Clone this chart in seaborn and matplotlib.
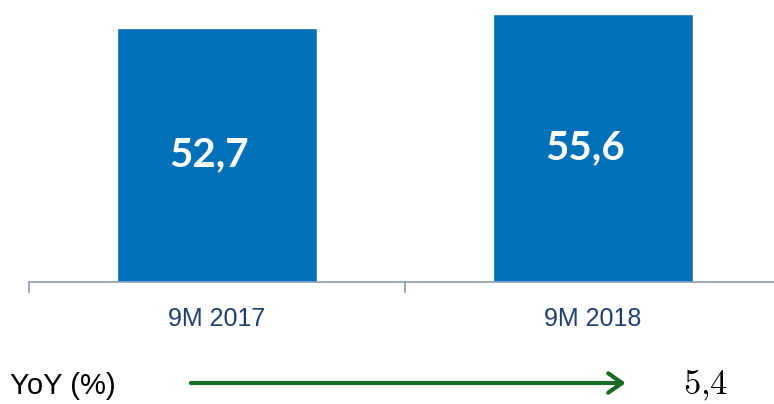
import pandas as pd
import matplotlib
matplotlib.use("Agg")
import matplotlib.pyplot as plt
import seaborn as sns

# Data: 9M revenue comparison
periods = ['9M 2017', '9M 2018']
values = [52.7, 55.6]
yoy_label = 'YoY (%)'
yoy_value = 5.4

df = pd.DataFrame({'Period': periods, 'Value': values})

sns.set_style('white')
plt.rcParams['font.family'] = ['Liberation Sans Narrow', 'Liberation Sans', 'DejaVu Sans']
plt.rcParams['mathtext.fontset'] = 'cm'

fig = plt.figure(figsize=(7.74, 4.04), dpi=100)
ax = fig.add_axes([0.0375, 0.302, 0.9716, 0.698])

sns.barplot(x='Period', y='Value', data=df, color='#0070B8', width=0.53,
            saturation=1, ax=ax)

ax.set_ylim(0, 58.4)
ax.set_xlim(-0.5, 1.5)
ax.set_xlabel('')
ax.set_ylabel('')
ax.set_yticks([])
for side in ['top', 'right', 'left']:
    ax.spines[side].set_visible(False)
ax.spines['bottom'].set_color('#8C9DB8')
ax.spines['bottom'].set_linewidth(1.2)

# category separators as ticks
ax.set_xticks([-0.5, 0.5, 1.5], minor=False)
ax.set_xticklabels(['', '', ''])
ax.tick_params(axis='x', which='major', length=8, width=1.2, color='#8C9DB8', bottom=True)
ax.set_xticks([0, 1], minor=True)
ax.set_xticklabels(periods, minor=True, fontsize=18, color='#1F3F6E')
ax.tick_params(axis='x', which='minor', length=0, pad=18)

for i, v in enumerate(values):
    ax.text(i - 0.02, v / 2, f'{v:.1f}'.replace('.', ','), ha='center', va='center',
            color='white', fontsize=29, fontweight='bold', family='Lato')

# YoY row
fig.text(0.013, 0.045, yoy_label, fontsize=21, color='black', va='center', ha='left')
fig.add_artist(matplotlib.patches.FancyArrowPatch(
    (0.243, 0.052), (0.812, 0.052), transform=fig.transFigure,
    arrowstyle='->,head_length=10,head_width=7', mutation_scale=1,
    color='#1A6B24', lw=3))
yoy_txt = f'{yoy_value:.1f}'.replace('.', '{,}')
fig.text(0.882, 0.045, f'${yoy_txt}$', fontsize=25, color='black', va='center', ha='left')

fig.savefig('out.png', dpi=100)
